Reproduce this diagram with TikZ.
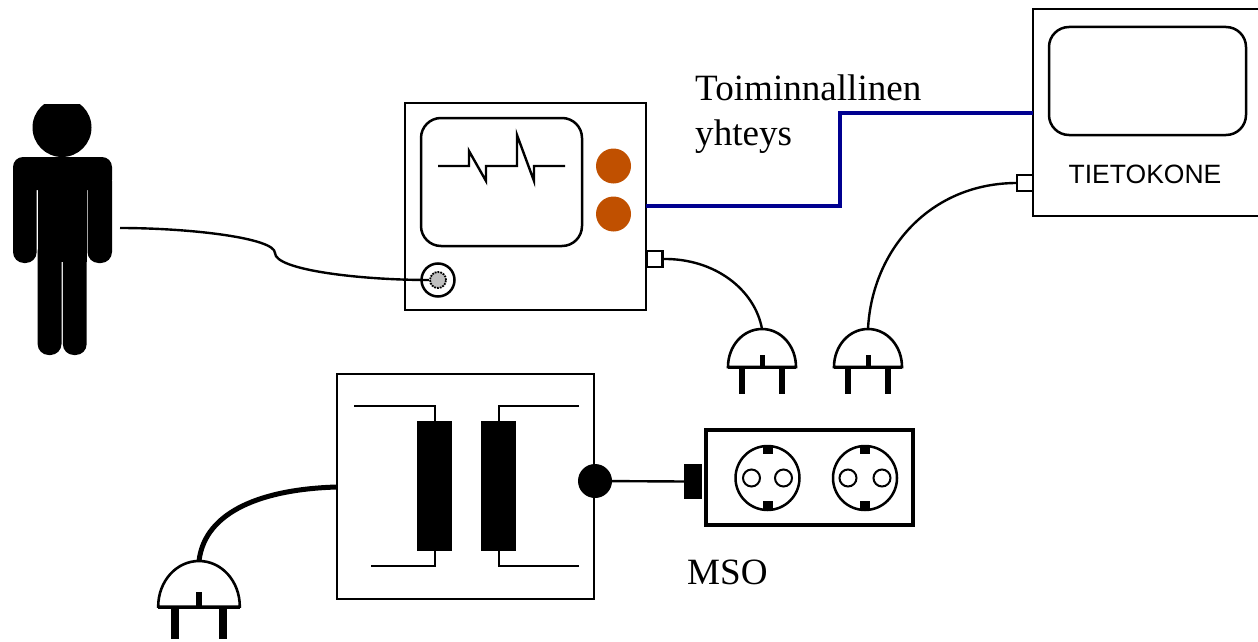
\documentclass[tikz,border=0pt]{standalone}
\usepackage{fontspec}
\setmainfont{Liberation Serif}
\setsansfont{Liberation Sans}
\usetikzlibrary{positioning}
\definecolor{knobcol}{HTML}{C05000}
\definecolor{linkcol}{HTML}{000090}
\tikzset{
  box/.style={draw,line width=2.5pt,inner sep=0pt,outer sep=0pt},
  screen/.style={box,rounded corners=20pt},
  knob/.style={circle,fill=knobcol,inner sep=0pt,minimum size=35pt},
  port/.style={box,fill=white,minimum size=16pt},
  cable/.style={line width=2.4pt},
  core/.style={fill=black,inner sep=0pt,outer sep=0pt,minimum width=35pt,minimum height=130pt},
  wire/.style={line width=2pt},
  plug/.pic={
    \fill (-23,38) rectangle (-17,65);
    \fill (17,38) rectangle (23,65);
    \fill (-2.5,26) rectangle (2.5,38);
    \draw[line width=2.6pt] (-34,38) .. controls (-34,17) and (-19,0) .. (0,0)
        .. controls (19,0) and (34,17) .. (34,38) -- cycle;
    \draw[line width=3pt] (-34,38.5) -- (34,38.5);
  }
}
\begin{document}
\begin{tikzpicture}[x=1pt,y=-1pt]
  \useasboundingbox (0,0) rectangle (1258,642);
  % person
  \begin{scope}
    \clip (0,104) rectangle (130,160);
    \fill (62,127.5) circle [radius=29.5];
  \end{scope}
  \fill[rounded corners=10pt] (13,157) rectangle (112,190);
  \fill[rounded corners=11pt] (13,170) rectangle (36.7,263);
  \fill[rounded corners=11pt] (87.5,170) rectangle (112,263);
  \fill (37.6,165) rectangle (86.7,262);
  \fill[rounded corners=11pt] (37.6,240) rectangle (61.5,355);
  \fill[rounded corners=11pt] (62.8,240) rectangle (86.7,355);
  \coordinate (hand) at (120,228);

  % monitor
  \node[box,minimum width=241pt,minimum height=207pt] (monitor) at (525.5,206.5) {};
  \node[screen,minimum width=161pt,minimum height=128pt] (scope) at (501.5,182) {};
  \draw[cable] (438,166) -- (469,166) -- (469,151) -- (486,181) -- (486,166) -- (517,166)
      -- (517,135) -- (534,181) -- (534,166) -- (565,166);
  \node[knob] (knobA) at (613.5,166) {};
  \node[knob] (knobB) at (613.5,214) {};
  \node[box,circle,minimum size=33pt] (jack) at (438,280) {};
  \node[circle,fill=black!25,draw,densely dotted,line width=1.8pt,inner sep=0pt,minimum size=16pt] (pad) at (438,280) {};
  \draw[cable] (hand) .. controls (190,228) and (275,238) .. (275,253)
      .. controls (275,270) and (360,280) .. (pad.west);
  \node[port] (portA) at (654.5,259) {};

  % computer
  \node[box,minimum width=226pt,minimum height=207pt] (computer) at (1146,112.5) {};
  \node[screen,minimum width=197pt,minimum height=108pt] (display) at (1147.5,81) {};
  \node[font=\sffamily,inner sep=0pt] (pclabel) at (1145,174) {\fontsize{26.5pt}{30pt}\selectfont TIETOKONE};
  \node[port] (portB) at (1025,183) {};

  % functional link
  \coordinate (bendA) at (840,206);
  \coordinate (bendB) at (840,113);
  \coordinate (linkA) at (646,206);
  \coordinate (linkB) at (1033,113);
  \draw[linkcol,line width=3.2pt] (linkA) -- (bendA) -- (bendB) -- (linkB);
  \node[anchor=base west,inner sep=0pt,align=left] (linktext) at (695,100) {\fontsize{37.1pt}{46pt}\selectfont Toiminnallinen};
  \node[anchor=base west,inner sep=0pt] (linktextb) at (695,145) {\fontsize{37.1pt}{46pt}\selectfont yhteys};

  % plugs
  \pic at (762,329) {plug};
  \pic at (868,329) {plug};
  \coordinate (plugA) at (762,329);
  \coordinate (plugB) at (868,329);
  \draw[cable] (portA.east) .. controls (715,258) and (755,290) .. (plugA);
  \draw[cable] (portB.west) .. controls (930,183) and (872,250) .. (plugB);

  % transformer
  \node[box,minimum width=257pt,minimum height=225pt] (trafo) at (465.5,486.5) {};
  \node[core] (coreA) at (434.5,486) {};
  \node[core] (coreB) at (498.5,486) {};
  \draw[wire] (354,406) -| (coreA.north);
  \draw[wire] (371,566) -| (coreA.south);
  \draw[wire] (579,406) -| (coreB.north);
  \draw[wire] (579,566) -| (coreB.south);
  \node[circle,fill=black,inner sep=0pt,minimum size=34pt] (outlet) at (595,481) {};

  % power strip
  \node[draw,line width=4pt,inner sep=0pt,outer sep=0pt,minimum width=207pt,minimum height=95pt] (strip) at (809.5,477.5) {};
  \node[fill=black,inner sep=0pt,outer sep=0pt,minimum width=18pt,minimum height=35pt] (stripplug) at (693,481.5) {};
  \draw[cable] (outlet.center) -- (stripplug.west);
  \foreach \name/\cx/\dx in {sockA/767.5/16,sockB/865/17} {
    \node[box,circle,minimum size=64pt] (\name) at (\cx,478) {};
    \fill (\cx-5,445) rectangle (\cx+5,454);
    \fill (\cx-5,500.5) rectangle (\cx+5,509.5);
    \draw[wire] (\cx-\dx,478) circle [radius=8.5];
    \draw[wire] (\cx+\dx,478) circle [radius=8.5];
  }
  \node[anchor=base west,inner sep=0pt] (msolabel) at (687,584) {\fontsize{37.1pt}{46pt}\selectfont MSO};

  % mains plug
  \pic[scale=1.2] at (199,561) {plug};
  \coordinate (plugC) at (199,561);
  \draw[line width=5pt] (trafo.west |- 0,487) .. controls (265,489) and (205,510) .. (plugC);
\end{tikzpicture}
\end{document}
